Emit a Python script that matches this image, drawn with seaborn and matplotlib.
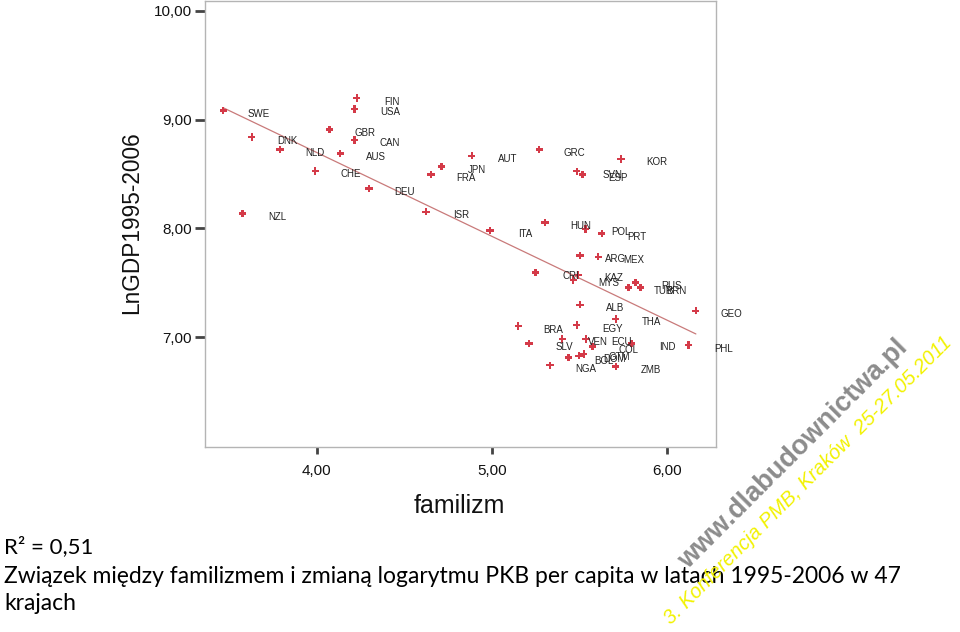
import numpy as np
import pandas as pd
import matplotlib
matplotlib.use('Agg')
import matplotlib.pyplot as plt
import seaborn as sns

# ---- data ----
countries = ['SWE', 'DNK', 'NLD', 'NZL', 'CHE', 'GBR', 'FIN', 'USA', 'CAN', 'AUS',
             'DEU', 'ISR', 'FRA', 'JPN', 'AUT', 'GRC', 'KOR', 'SVN', 'ESP', 'HUN',
             'ITA', 'POL', 'PRT', 'ARG', 'MEX', 'CRI', 'KAZ', 'MYS', 'RUS', 'TUR',
             'BRN', 'ALB', 'GEO', 'THA', 'BRA', 'EGY', 'SLV', 'VEN', 'ECU', 'COL',
             'IND', 'PHL', 'BOL', 'DOM', 'GTM', 'NGA', 'ZMB']
familizm = [3.466, 3.629, 3.790, 3.575, 3.992, 4.074, 4.229, 4.217, 4.217, 4.135,
            4.299, 4.625, 4.653, 4.714, 4.887, 5.272, 5.739, 5.486, 5.518, 5.305,
            4.990, 5.537, 5.629, 5.505, 5.609, 5.251, 5.495, 5.466, 5.823, 5.781,
            5.851, 5.505, 6.167, 5.709, 5.152, 5.486, 5.213, 5.403, 5.539, 5.577,
            5.800, 6.126, 5.438, 5.499, 5.527, 5.333, 5.709]
ln_gdp = [9.083, 8.840, 8.727, 8.138, 8.528, 8.908, 9.199, 9.098, 8.813, 8.687,
          8.368, 8.153, 8.497, 8.569, 8.668, 8.724, 8.638, 8.525, 8.497, 8.055,
          7.982, 7.994, 7.954, 7.752, 7.739, 7.595, 7.571, 7.525, 7.500, 7.457,
          7.457, 7.297, 7.242, 7.166, 7.101, 7.110, 6.940, 6.982, 6.982, 6.911,
          6.940, 6.926, 6.810, 6.828, 6.844, 6.741, 6.727]
x_ticks = [4, 5, 6]
x_tick_labels = ['4,00', '5,00', '6,00']
y_ticks = [7, 8, 9, 10]
y_tick_labels = ['7,00', '8,00', '9,00', '10,00']
x_label = 'familizm'
y_label = 'LnGDP1995-2006'
r2_text = 'R² = 0,51'
caption_line1 = 'Związek między familizmem i zmianą logarytmu PKB per capita w latach 1995-2006 w 47'
caption_line2 = 'krajach'
watermark1 = 'www.dlabudownictwa.pl'
watermark2 = '3. Konferencja PMB, Kraków  25-27.05.2011'

df = pd.DataFrame({'country': countries, 'familizm': familizm, 'LnGDP': ln_gdp})

sns.set_style('white')
plt.rcParams['font.family'] = ['Liberation Sans', 'DejaVu Sans']

W, H = 960, 632
fig = plt.figure(figsize=(W / 100, H / 100), dpi=100)
ax = fig.add_axes([204.5 / W, 1 - 447 / H, (716 - 204.5) / W, (447 - 1) / H])

sns.regplot(data=df, x='familizm', y='LnGDP', scatter=False, ci=None, ax=ax,
            line_kws=dict(color='#c97a7a', lw=0.9))
sns.scatterplot(data=df, x='familizm', y='LnGDP', marker='P', s=27,
                color='#d43a48', edgecolor='none', ax=ax, zorder=3)

for c, xv, yv in zip(df['country'], df['familizm'], df['LnGDP']):
    ax.annotate(c, (xv, yv), xytext=(25.5, -2.5), textcoords='offset points',
                ha='center', va='center', fontsize=7, color='#222222')

ax.set_xlim(3.359, 6.282)
ax.set_ylim(5.988, 10.092)
ax.set_xticks(x_ticks)
ax.set_xticklabels(x_tick_labels)
ax.set_yticks(y_ticks)
ax.set_yticklabels(y_tick_labels)
ax.tick_params(axis='x', direction='out', length=5, width=2, color='#444444',
               pad=7, labelsize=11, labelcolor='#111111', bottom=True)
ax.tick_params(axis='y', direction='out', length=7, width=2, color='#444444',
               pad=2, labelsize=11, labelcolor='#111111', left=True)
for sp in ax.spines.values():
    sp.set_color('#b4b4b4')
    sp.set_linewidth(1)
ax.set_xlabel('')
ax.set_ylabel('')

fig.text(459 / W, 1 - 506 / H, x_label, ha='center', va='center', fontsize=18, color='#111111')
fig.text(131.5 / W, 1 - 222.5 / H, y_label, ha='center', va='center', rotation=90,
         fontsize=16.3, color='#111111')

cap_font = ['Lato', 'DejaVu Sans']
fig.text(4 / W, 1 - 553 / H, r2_text, ha='left', va='baseline', fontsize=16,
         family=cap_font, color='#000000')
fig.text(4 / W, 1 - 583 / H, caption_line1, ha='left', va='baseline', fontsize=16.5,
         family=cap_font, color='#000000')
fig.text(4 / W, 1 - 610 / H, caption_line2, ha='left', va='baseline', fontsize=16.5,
         family=cap_font, color='#000000')

fig.text(793 / W, 1 - 454 / H, watermark1, ha='center', va='center', rotation=45,
         rotation_mode='anchor', fontsize=19.5, fontweight='bold', color='#8c8c8c', zorder=10)
fig.text(808 / W, 1 - 480 / H, watermark2, ha='center', va='center', rotation=45,
         rotation_mode='anchor', fontsize=14.5, style='italic', color='#f2f200', zorder=11)

fig.savefig('out.png', dpi=100)
